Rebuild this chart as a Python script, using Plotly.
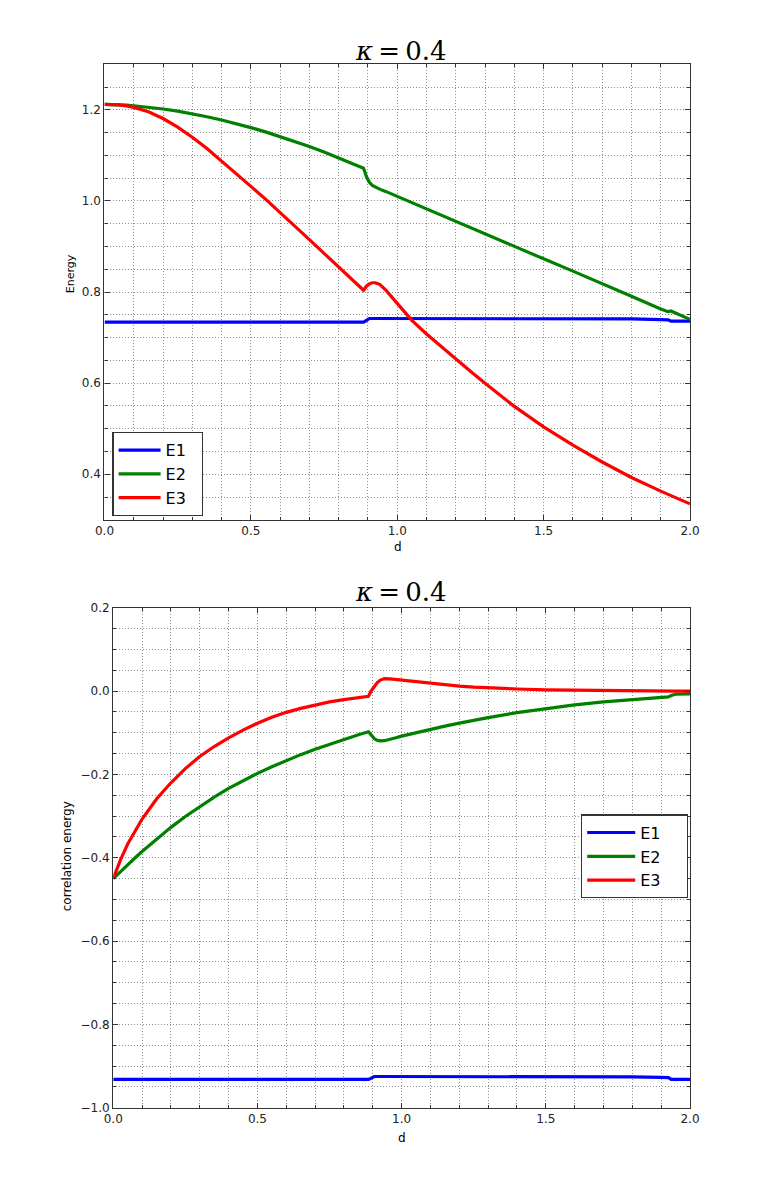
import plotly.graph_objects as go

# ---------------- data ----------------
d = [0.0, 0.025, 0.05, 0.075, 0.1, 0.15, 0.2, 0.25, 0.3, 0.35, 0.4, 0.45, 0.5,
     0.55, 0.6, 0.65, 0.7, 0.75, 0.8, 0.85, 0.885, 0.895, 0.905, 0.915, 0.925,
     0.94, 0.96, 0.98, 1.0, 1.05, 1.1, 1.15, 1.2, 1.25, 1.3, 1.4, 1.5, 1.6,
     1.7, 1.8, 1.9, 1.925, 1.935, 1.95, 2.0]

energy_E1 = [0.734] * 21 + [0.738] + [0.742] * 17 + [0.741, 0.7395, 0.739, 0.736, 0.736, 0.736]
energy_E2 = [1.212, 1.2118, 1.2111, 1.2102, 1.209, 1.2059, 1.2019, 1.1971, 1.1914, 1.1849,
             1.1777, 1.1697, 1.161, 1.1517, 1.1416, 1.1309, 1.1196, 1.1075, 1.0949, 1.0816,
             1.072, 1.053, 1.041, 1.034, 1.030, 1.026, 1.021, 1.0155, 1.010, 0.996,
             0.982, 0.968, 0.954, 0.9405, 0.927, 0.900, 0.873, 0.846, 0.819, 0.791,
             0.763, 0.757, 0.7585, 0.754, 0.740]
energy_E3 = [1.212, 1.2117, 1.2108, 1.2088, 1.2055, 1.196, 1.181, 1.162, 1.140, 1.115,
             1.088, 1.060, 1.032, 1.004, 0.975, 0.945, 0.915, 0.885, 0.855, 0.825,
             0.804, 0.813, 0.818, 0.8205, 0.8205, 0.817, 0.805, 0.790, 0.775, 0.738,
             0.708, 0.680, 0.653, 0.626, 0.600, 0.549, 0.504, 0.464, 0.427, 0.393,
             0.363, 0.356, 0.353, 0.349, 0.335]

corr_E1 = [-0.932] * 21 + [-0.929] + [-0.925] * 17 + [-0.926, -0.927, -0.9275, -0.932, -0.932, -0.932]
corr_E2 = [-0.45, -0.433, -0.4165, -0.4005, -0.385, -0.355, -0.327, -0.301, -0.277, -0.2545,
           -0.2335, -0.2145, -0.1975, -0.1815, -0.1665, -0.1525, -0.1395, -0.1275, -0.116, -0.105,
           -0.0975, -0.107, -0.114, -0.118, -0.1195, -0.119, -0.116, -0.112, -0.108, -0.0995,
           -0.0915, -0.084, -0.077, -0.070, -0.0635, -0.0515, -0.0415, -0.033, -0.026, -0.020,
           -0.015, -0.014, -0.0105, -0.0075, -0.0065]
corr_E3 = [-0.45, -0.405, -0.367, -0.335, -0.307, -0.259, -0.220, -0.186, -0.157, -0.133,
           -0.112, -0.0935, -0.077, -0.063, -0.051, -0.0415, -0.033, -0.026, -0.0205, -0.0155,
           -0.0125, 0.001, 0.012, 0.020, 0.026, 0.030, 0.0295, 0.028, 0.026, 0.022,
           0.018, 0.015, 0.012, 0.0095, 0.0075, 0.005, 0.003, 0.002, 0.0012, 0.0008,
           0.0005, 0.0004, 0.0002, 0.0, 0.0]

series_names = ["E1", "E2", "E3"]
series_colors = ["#0000ff", "#008000", "#ff0000"]
title_text = "<i>κ</i>\u2009=\u20090.4"

# ---------------- figure ----------------
W, H = 775, 1178
NB = "\u00a0"

fig = go.Figure()
for name, col, ys in zip(series_names, series_colors, [energy_E1, energy_E2, energy_E3]):
    fig.add_trace(go.Scatter(x=d, y=ys, mode="lines", name=name + NB * 2,
                             line=dict(color=col, width=3.2),
                             xaxis="x", yaxis="y", legend="legend"))
for name, col, ys in zip(series_names, series_colors, [corr_E1, corr_E2, corr_E3]):
    fig.add_trace(go.Scatter(x=d, y=ys, mode="lines", name=name + NB * 4,
                             line=dict(color=col, width=3.2),
                             xaxis="x2", yaxis="y2", legend="legend2"))

grid = dict(showgrid=True, gridcolor="#8f8f8f", griddash="1px,2px", gridwidth=1)
axis_common = dict(showline=True, linecolor="#333333", linewidth=1.3, mirror="allticks",
                   ticks="inside", ticklen=5, tickcolor="#333333", zeroline=False,
                   tickfont=dict(family="DejaVu Sans", size=12, color="#222222"),
                   **grid)
minor_x = dict(dtick=0.1, ticks="inside", ticklen=3, tickcolor="#333333", **grid)
minor_y = dict(dtick=0.05, ticks="inside", ticklen=3, tickcolor="#333333", **grid)


def fx(px):
    return px / W


def fy(py):
    return 1 - py / H


fig.update_layout(
    width=W, height=H,
    margin=dict(l=0, r=0, t=0, b=0),
    paper_bgcolor="white", plot_bgcolor="white",
    xaxis=dict(domain=[fx(97), fx(698)], range=[0, 2], dtick=0.5, tick0=0,
               tickformat=".1f", anchor="y", minor=minor_x, **axis_common),
    yaxis=dict(domain=[fy(519), fy(58)], range=[0.3, 1.3], dtick=0.2, tick0=0,
               tickformat=".1f", anchor="x", minor=minor_y, **axis_common),
    xaxis2=dict(domain=[fx(106), fx(698)], range=[0, 2], dtick=0.5, tick0=0,
                tickformat=".1f", anchor="y2", minor=minor_x, **axis_common),
    yaxis2=dict(domain=[fy(1114), fy(608)], range=[-1.0, 0.2], dtick=0.2, tick0=0,
                tickformat=".1f", anchor="x2", minor=minor_y, **axis_common),
    legend=dict(x=fx(105), y=fy(430), xanchor="left", yanchor="top", itemwidth=42,
                bgcolor="white", bordercolor="#333333", borderwidth=1.3,
                font=dict(family="DejaVu Sans", size=16, color="black")),
    legend2=dict(x=fx(586), y=fy(817), xanchor="left", yanchor="top", itemwidth=48,
                 bgcolor="white", bordercolor="#333333", borderwidth=1.3,
                 font=dict(family="DejaVu Sans", size=16, color="black")),
    showlegend=True,
)

ann = []
for cy in [45, 592]:
    ann.append(dict(text=title_text, x=fx(401), y=fy(cy), xref="paper", yref="paper",
                    showarrow=False, xanchor="center", yanchor="middle",
                    font=dict(family="DejaVu Serif", size=26, color="black")))
ann.append(dict(text="Energy", x=fx(62), y=fy(270), xref="paper", yref="paper",
                showarrow=False, textangle=-90, xanchor="center", yanchor="middle",
                font=dict(family="DejaVu Sans", size=11, color="black")))
ann.append(dict(text="d", x=fx(398), y=fy(547), xref="paper", yref="paper",
                showarrow=False, xanchor="center", yanchor="middle",
                font=dict(family="DejaVu Sans", size=12, color="black")))
ann.append(dict(text="correlation energy", x=fx(58), y=fy(860), xref="paper", yref="paper",
                showarrow=False, textangle=-90, xanchor="center", yanchor="middle",
                font=dict(family="DejaVu Sans", size=12, color="black")))
ann.append(dict(text="d", x=fx(402), y=fy(1145), xref="paper", yref="paper",
                showarrow=False, xanchor="center", yanchor="middle",
                font=dict(family="DejaVu Sans", size=12, color="black")))
fig.update_layout(annotations=ann)

fig.write_html("out.html")
